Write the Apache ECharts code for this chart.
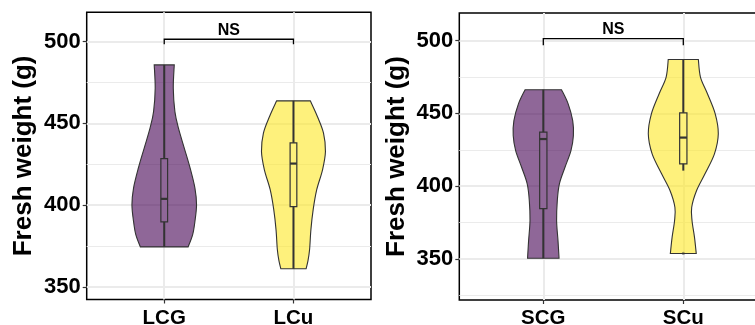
<!DOCTYPE html>
<html><head><meta charset="utf-8">
<script src="https://cdn.jsdelivr.net/npm/echarts@6/dist/echarts.min.js"></script>
<style>html,body{margin:0;padding:0;background:#fff}#c{width:755px;height:325px}</style>
</head><body><div id="c"></div>
<script>
// ---------------- data ----------------
const leftCategories = ['LCG', 'LCu'];
const rightCategories = ['SCG', 'SCu'];
const leftYTicks = [350, 400, 450, 500];
const leftYMinor = [375, 425, 475];
const rightYTicks = [350, 400, 450, 500];
const rightYMinor = [325, 375, 425, 475];
const leftYRange = [342.2, 518];
const rightYRange = [321.8, 519];
const yTitle = 'Fresh weight (g)';

// violin profiles: fresh weight (g) and relative density
const lcgY = [374.4, 381.9, 390, 400.2, 410.4, 422.7, 434.9, 447.1, 457.2, 471.5, 485.8];
const lcgD = [0.74, 0.88, 0.95, 1.00, 0.95, 0.80, 0.62, 0.44, 0.33, 0.28, 0.31];
const lcuY = [361, 366, 373, 385, 397.2, 409.4, 421.6, 432.8, 444, 454.2, 463.8];
const lcuD = [0.39, 0.45, 0.50, 0.54, 0.61, 0.72, 0.90, 0.99, 0.93, 0.74, 0.52];
const scgY = [350.5, 362.6, 376.3, 390.1, 401.6, 413, 424.5, 434.8, 445.1, 456.6, 466.3];
const scgD = [0.45, 0.42, 0.38, 0.40, 0.46, 0.62, 0.79, 0.86, 0.84, 0.71, 0.52];
const scuY = [353.8, 364.8, 376.3, 385.5, 397, 408.5, 422.2, 436, 449.8, 463.5, 475, 487.1];
const scuD = [0.37, 0.32, 0.25, 0.24, 0.38, 0.62, 0.89, 1.00, 0.91, 0.69, 0.49, 0.43];

// box stats: [lower whisker, q1, median, q3, upper whisker]
const lcgBox = [374.4, 389.7, 403.8, 428.4, 485.8];
const lcuBox = [361, 399, 425.4, 438.1, 463.8];
const scgBox = [350.5, 384.6, 432.4, 437.2, 466.3];
const scuBox = [410.7, 415.4, 433.4, 450.4, 487.1];
const scuOutliers = [353.8];

// significance brackets: [bar value, tip value]
const leftBracket = [501.5, 498.4];
const rightBracket = [501.4, 496.8];
const bracketLabel = 'NS';

// ---------------- styles ----------------
const FONT = '"Liberation Sans", Arial, Helvetica, sans-serif';
const VIOLIN_HALF = 0.25;   // max half width in category units
const BOX_HALF = 0.026;
const FILLS = ['rgba(68,1,84,0.6)', 'rgba(253,231,37,0.6)'];
const BOX_FILLS = ['#8F6798', '#FEF17C'];
const OUT = '#333333';

const leftGroups = [
  {y: lcgY, d: lcgD, box: lcgBox, out: []},
  {y: lcuY, d: lcuD, box: lcuBox, out: []}
];
const rightGroups = [
  {y: scgY, d: scgD, box: scgBox, out: []},
  {y: scuY, d: scuD, box: scuBox, out: scuOutliers}
];

function crPath(pts) {
  let s = '';
  for (let i = 0; i < pts.length - 1; i++) {
    const p0 = pts[Math.max(i - 1, 0)], p1 = pts[i], p2 = pts[i + 1], p3 = pts[Math.min(i + 2, pts.length - 1)];
    const c1 = [p1[0] + (p2[0] - p0[0]) / 6, p1[1] + (p2[1] - p0[1]) / 6];
    const c2 = [p2[0] - (p3[0] - p1[0]) / 6, p2[1] - (p3[1] - p1[1]) / 6];
    s += ' C' + c1[0] + ' ' + c1[1] + ' ' + c2[0] + ' ' + c2[1] + ' ' + p2[0] + ' ' + p2[1];
  }
  return s;
}

function violinRender(groups) {
  return function (params, api) {
    const gi = params.dataIndex;
    const g = groups[gi];
    const cx = api.value(0);
    const right = g.y.map((v, i) => api.coord([cx + g.d[i] * VIOLIN_HALF, v]));
    const left = g.y.map((v, i) => api.coord([cx - g.d[i] * VIOLIN_HALF, v])).reverse();
    let d = 'M' + right[0][0] + ' ' + right[0][1] + crPath(right);
    d += ' L' + left[0][0] + ' ' + left[0][1] + crPath(left) + ' Z';
    const b = g.box;
    const wTop = api.coord([cx, b[4]]), wBot = api.coord([cx, b[0]]);
    const bl = api.coord([cx - BOX_HALF, b[3]]), br = api.coord([cx + BOX_HALF, b[1]]);
    const mL = api.coord([cx - BOX_HALF, b[2]]), mR = api.coord([cx + BOX_HALF, b[2]]);
    const children = [
      {type: 'path', shape: {pathData: d}, style: {fill: FILLS[gi], stroke: OUT, lineWidth: 1.1}},
      {type: 'line', shape: {x1: wTop[0], y1: wTop[1], x2: wBot[0], y2: wBot[1]}, style: {stroke: OUT, lineWidth: 2}},
      {type: 'rect', shape: {x: bl[0], y: bl[1], width: br[0] - bl[0], height: br[1] - bl[1]},
        style: {fill: BOX_FILLS[gi], stroke: OUT, lineWidth: 1.2}},
      {type: 'line', shape: {x1: mL[0], y1: mL[1], x2: mR[0], y2: mR[1]}, style: {stroke: OUT, lineWidth: 2.2}}
    ];
    g.out.forEach(o => {
      const p = api.coord([cx, o]);
      children.push({type: 'circle', shape: {cx: p[0], cy: p[1], r: 1.6}, style: {fill: 'rgba(51,51,51,0.45)'}});
    });
    return {type: 'group', children};
  };
}

function bracketRender(br, offset) {
  return function (params, api) {
    const a = api.coord([0, br[1]]), b = api.coord([0, br[0]]), c = api.coord([1, br[0]]), e = api.coord([1, br[1]]);
    const mid = api.coord([0.5, br[0]]);
    return {type: 'group', children: [
      {type: 'polyline', shape: {points: [a, b, c, e]}, style: {stroke: '#000', lineWidth: 1.3, fill: null}},
      {type: 'text', x: mid[0], y: mid[1] - offset,
        style: {text: bracketLabel, fill: '#000', fontSize: 16, fontWeight: 'bold', fontFamily: FONT, align: 'center', verticalAlign: 'middle'}}
    ]};
  };
}

function xAxisCfg(gridIndex, cats) {
  const idx = cats.map((_, i) => i);
  return {
    gridIndex, type: 'value', min: -0.6, max: 1.6, position: 'bottom',
    axisLine: {show: false, onZero: false},
    axisTick: {show: true, customValues: idx, length: 4, lineStyle: {color: OUT, width: 1.2}},
    axisLabel: {customValues: idx, formatter: v => cats[Math.round(v)], fontSize: 20.5, fontWeight: 'bold',
      color: '#000', fontFamily: FONT, margin: 8},
    splitLine: {show: true, lineStyle: {color: '#EBEBEB', width: 2}}
  };
}
function yAxisCfg(gridIndex, range, ticks, gap) {
  return {
    gridIndex, type: 'value', min: range[0], max: range[1], position: 'left',
    name: yTitle, nameLocation: 'middle', nameGap: gap,
    nameTextStyle: {fontSize: 26, fontWeight: 'bold', color: '#000', fontFamily: FONT},
    axisLine: {show: false, onZero: false},
    axisTick: {show: true, customValues: ticks, length: 4, lineStyle: {color: OUT, width: 1.2}},
    axisLabel: {customValues: ticks, fontSize: 22, fontWeight: 'bold', color: '#000', fontFamily: FONT, margin: 6},
    splitLine: {show: true, lineStyle: {color: '#EBEBEB', width: 2}}
  };
}
function yMinorCfg(gridIndex, range, ticks) {
  return {
    gridIndex, type: 'value', min: range[0], max: range[1], position: 'left',
    axisLine: {show: false, onZero: false},
    axisTick: {show: false, customValues: ticks},
    axisLabel: {show: false, customValues: ticks},
    splitLine: {show: true, lineStyle: {color: '#EBEBEB', width: 1}}
  };
}

const chart = echarts.init(document.getElementById('c'), null, {renderer: 'canvas'});
chart.setOption({
  animation: false,
  backgroundColor: '#fff',
  grid: [
    {left: 86.7, top: 12.3, width: 284.3, height: 287.2, show: true, borderColor: '#000', borderWidth: 1.5,
      backgroundColor: 'transparent', containLabel: false, outerBoundsMode: 'none'},
    {left: 459.3, top: 13, width: 308, height: 287, show: true, borderColor: '#000', borderWidth: 1.5,
      backgroundColor: 'transparent', containLabel: false, outerBoundsMode: 'none'}
  ],
  xAxis: [xAxisCfg(0, leftCategories), xAxisCfg(1, rightCategories)],
  yAxis: [
    yAxisCfg(0, leftYRange, leftYTicks, 50),
    yMinorCfg(0, leftYRange, leftYMinor),
    yAxisCfg(1, rightYRange, rightYTicks, 49),
    yMinorCfg(1, rightYRange, rightYMinor)
  ],
  series: [
    {type: 'custom', xAxisIndex: 0, yAxisIndex: 0, clip: false, z: 3,
      data: leftGroups.map((g, i) => [i, g.box[2]]), renderItem: violinRender(leftGroups)},
    {type: 'custom', xAxisIndex: 1, yAxisIndex: 2, clip: false, z: 3,
      data: rightGroups.map((g, i) => [i, g.box[2]]), renderItem: violinRender(rightGroups)},
    {type: 'custom', xAxisIndex: 0, yAxisIndex: 0, clip: false, z: 4,
      data: [[0.5, leftBracket[0]]], renderItem: bracketRender(leftBracket, 8.5)},
    {type: 'custom', xAxisIndex: 1, yAxisIndex: 2, clip: false, z: 4,
      data: [[0.5, rightBracket[0]]], renderItem: bracketRender(rightBracket, 9)}
  ]
});
</script></body></html>
